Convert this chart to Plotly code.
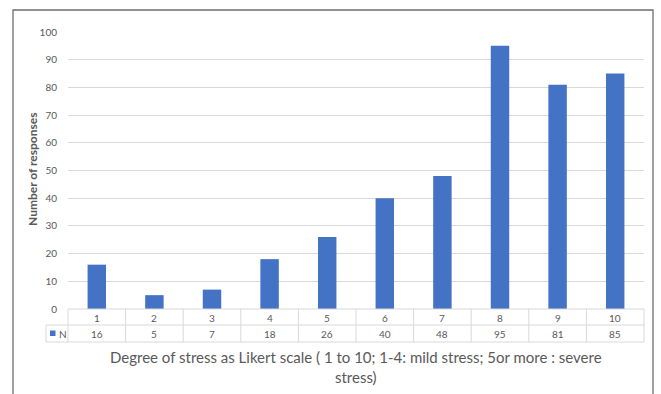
import plotly.graph_objects as go

# Likert stress levels and number of responses for each level
levels = ["1", "2", "3", "4", "5", "6", "7", "8", "9", "10"]
responses = [16, 5, 7, 18, 26, 40, 48, 95, 81, 85]
series_name = "N"
y_ticks = list(range(0, 101, 10))

W, H = 661, 394
L, R, T, B = 68, 17, 32, 85          # margins in px
PW, PH = W - L - R, H - T - B        # plot area size

BAR = "#4472C4"
TXT = "#595959"
GRID = "#D9D9D9"
FONT = "Lato, 'Open Sans', sans-serif"


def fx(px):
    """Pixel x -> paper x."""
    return (px - L) / PW


def fy(py):
    """Pixel y -> paper y."""
    return (H - B - py) / PH


fig = go.Figure(
    go.Bar(
        x=levels,
        y=responses,
        name=series_name,
        marker=dict(color=BAR, line=dict(width=0)),
        showlegend=False,
    )
)

n = len(levels)
shapes = []
line = dict(color=GRID, width=1)
row1_bot, row2_bot = 325, 342
axis_y = H - B

# data table grid under the plot
shapes.append(dict(type="line", xref="paper", yref="paper",
                   x0=0, x1=1, y0=fy(axis_y), y1=fy(axis_y), line=line))
shapes.append(dict(type="line", xref="paper", yref="paper",
                   x0=fx(46), x1=1, y0=fy(row1_bot), y1=fy(row1_bot), line=line))
shapes.append(dict(type="line", xref="paper", yref="paper",
                   x0=fx(46), x1=1, y0=fy(row2_bot), y1=fy(row2_bot), line=line))
shapes.append(dict(type="line", xref="paper", yref="paper",
                   x0=fx(46), x1=fx(46), y0=fy(row1_bot), y1=fy(row2_bot), line=line))
for k in range(n + 1):
    shapes.append(dict(type="line", xref="paper", yref="paper",
                       x0=k / n, x1=k / n, y0=fy(axis_y), y1=fy(row2_bot), line=line))

# legend key in the table
shapes.append(dict(type="rect", xref="paper", yref="paper",
                   x0=fx(50), x1=fx(55.5), y0=fy(330.5), y1=fy(336),
                   fillcolor=BAR, line=dict(width=0)))

# outer chart frame
shapes.append(dict(type="rect", xref="paper", yref="paper",
                   x0=fx(13), x1=fx(653), y0=fy(10), y1=fy(400),
                   line=dict(color="#6E6E6E", width=1.3), fillcolor="rgba(0,0,0,0)"))

annotations = []
for i, (lvl, v) in enumerate(zip(levels, responses)):
    annotations.append(dict(x=i, xref="x", y=fy(317.5), yref="paper",
                            text=lvl, showarrow=False, yanchor="middle",
                            font=dict(size=10, color=TXT, family=FONT)))
    annotations.append(dict(x=i, xref="x", y=fy(334), yref="paper",
                            text=str(v), showarrow=False, yanchor="middle",
                            font=dict(size=10, color=TXT, family=FONT)))
annotations.append(dict(x=fx(57), xref="paper", y=fy(334), yref="paper",
                        text=series_name, showarrow=False, xanchor="left", yanchor="middle",
                        font=dict(size=10, color=TXT, family=FONT)))

# axis titles
annotations.append(dict(x=0.5, xref="paper", y=fy(357), yref="paper",
                        text="Degree of stress as Likert scale ( 1 to 10; 1-4: mild stress; 5or more : severe",
                        showarrow=False, yanchor="middle",
                        font=dict(size=15, color=TXT, family=FONT)))
annotations.append(dict(x=0.5, xref="paper", y=fy(377), yref="paper",
                        text="stress)", showarrow=False, yanchor="middle",
                        font=dict(size=15, color=TXT, family=FONT)))
annotations.append(dict(x=fx(32), xref="paper", y=fy(170), yref="paper",
                        text="<b>Number of responses</b>", textangle=-90,
                        showarrow=False, xanchor="center", yanchor="middle",
                        font=dict(size=12, color=TXT, family=FONT)))

fig.update_layout(
    width=W, height=H,
    margin=dict(l=L, r=R, t=T, b=B),
    paper_bgcolor="white", plot_bgcolor="white",
    bargap=0.68,
    shapes=shapes,
    annotations=annotations,
    xaxis=dict(type="category", range=[-0.5, n - 0.5], showticklabels=False,
               showgrid=False, zeroline=False, showline=False, ticks=""),
    yaxis=dict(range=[0, 100], tickvals=y_ticks, showgrid=True, gridcolor=GRID,
               gridwidth=1, zeroline=False, showline=False, ticks="",
               ticklabelstandoff=10,
               tickfont=dict(size=10, color=TXT, family=FONT)),
)

fig.write_html("out.html")
